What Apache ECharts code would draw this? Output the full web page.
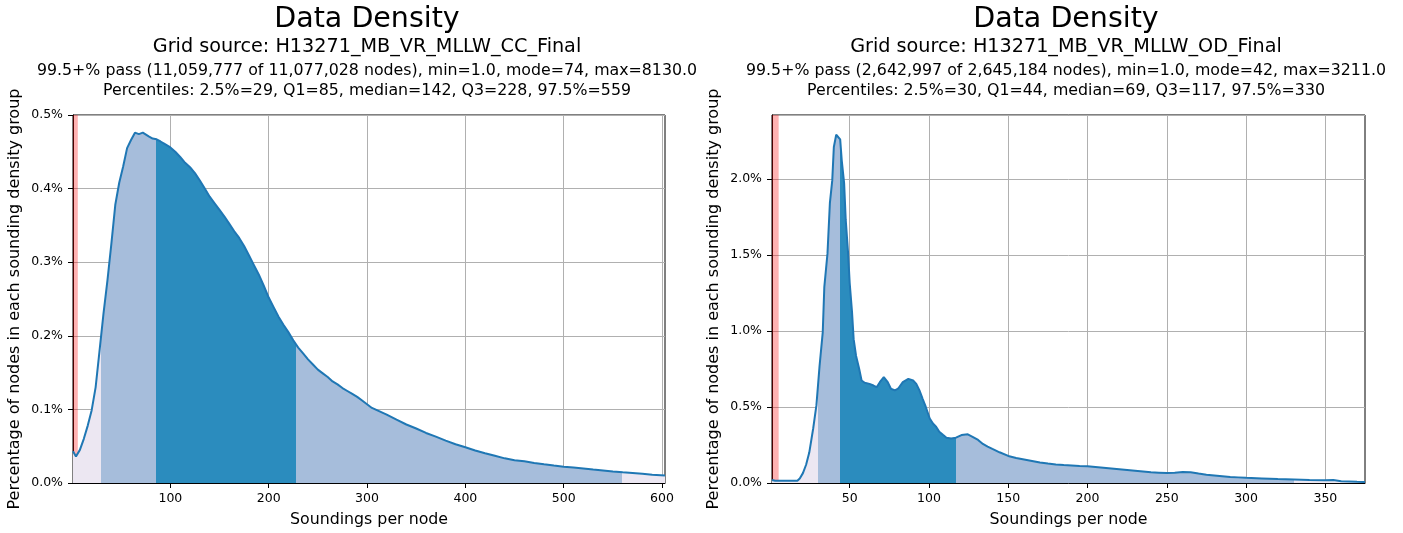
<!DOCTYPE html>
<html><head><meta charset="utf-8">
<script src="https://cdn.jsdelivr.net/npm/echarts@6/dist/echarts.min.js"></script>
<style>html,body{margin:0;padding:0;background:#fff}#c{width:1403px;height:533px}</style>
</head><body><div id="c"></div>
<script>
// ---- Left chart (CC_Final) ----
const leftTitle = 'Grid source: H13271_MB_VR_MLLW_CC_Final';
const leftStats = '99.5+% pass (11,059,777 of 11,077,028 nodes), min=1.0, mode=74, max=8130.0';
const leftPct = 'Percentiles: 2.5%=29, Q1=85, median=142, Q3=228, 97.5%=559';
const leftBreaks = [29, 85, 228, 559];          // 2.5%, Q1, Q3, 97.5%
const leftRange = [1, 603];
const leftFail = 5.9;
const leftTicks = [100, 200, 300, 400, 500, 600];
const leftX = [1,4,8,12,16,20,24,28,32,36,40,44,48,52,56,60,64,68,72,74,78,82,86,90,95,100,105,110,115,120,125,130,135,140,145,150,155,160,165,170,175,180,185,190,195,200,205,210,215,220,225,230,235,240,245,250,255,260,265,270,275,280,285,290,295,300,305,310,320,330,340,350,360,370,380,390,400,410,420,430,440,450,460,470,480,490,500,510,520,530,540,550,560,570,580,590,603];
const leftY = [0.043,0.036,0.045,0.060,0.078,0.099,0.130,0.180,0.230,0.275,0.325,0.378,0.408,0.430,0.455,0.466,0.476,0.474,0.476,0.478,0.471,0.468,0.467,0.464,0.460,0.456,0.450,0.443,0.435,0.429,0.421,0.411,0.400,0.389,0.380,0.371,0.362,0.352,0.342,0.333,0.322,0.309,0.296,0.283,0.268,0.252,0.239,0.226,0.215,0.205,0.194,0.184,0.176,0.168,0.161,0.154,0.149,0.144,0.138,0.134,0.129,0.125,0.121,0.117,0.112,0.107,0.102,0.099,0.093,0.086,0.0795,0.074,0.068,0.063,0.0575,0.0527,0.0486,0.0441,0.0405,0.037,0.0335,0.031,0.0295,0.0272,0.0254,0.0237,0.0222,0.021,0.0197,0.0183,0.017,0.0157,0.0146,0.0137,0.0125,0.0112,0.0103];

// ---- Right chart (OD_Final) ----
const rightTitle = 'Grid source: H13271_MB_VR_MLLW_OD_Final';
const rightStats = '99.5+% pass (2,642,997 of 2,645,184 nodes), min=1.0, mode=42, max=3211.0';
const rightPct = 'Percentiles: 2.5%=30, Q1=44, median=69, Q3=117, 97.5%=330';
const rightBreaks = [30, 44, 117, 330];
const rightRange = [1, 375];
const rightFail = 5.2;
const rightTicks = [50, 100, 150, 200, 250, 300, 350];
const rightX = [1,3,17,18.5,20.5,22.5,24.5,27,29,31,33,34,36,37.5,39,40,41.5,42.5,44,45,46.5,47.5,49,50,51.5,52.5,54,56,57.5,59.5,62.5,65,67,69,71.5,74,76,78.5,80.5,83.5,87,90,92,94,96,98,100.5,102.5,104.5,106.5,109,111,114,117,120.5,124.5,127.5,131,134,137,140,144.5,150,155,160,165,170,175,180,185,190,195,200,205,210,215,220,225,230,235,240,245,250,255,260,265,270,275,280,285,290,295,300,310,320,330,340,350,355,360,365,370,375];
const rightY = [0.02,0.015,0.015,0.03,0.065,0.12,0.20,0.36,0.51,0.77,0.99,1.29,1.51,1.84,1.99,2.21,2.29,2.30,2.26,2.12,1.97,1.73,1.51,1.315,1.12,0.946,0.837,0.75,0.674,0.659,0.652,0.641,0.63,0.663,0.696,0.663,0.62,0.609,0.62,0.663,0.685,0.674,0.652,0.609,0.554,0.50,0.424,0.391,0.37,0.337,0.315,0.298,0.293,0.298,0.315,0.32,0.304,0.283,0.257,0.239,0.224,0.202,0.178,0.165,0.155,0.145,0.135,0.128,0.122,0.118,0.115,0.112,0.110,0.105,0.100,0.095,0.090,0.085,0.080,0.075,0.070,0.068,0.065,0.068,0.072,0.070,0.062,0.055,0.050,0.045,0.040,0.037,0.034,0.030,0.026,0.023,0.020,0.018,0.020,0.012,0.010,0.008,0.007];

const fillColors = ['#ece7f2', '#a6bddb', '#2b8cbe', '#a6bddb', '#ece7f2'];

const FONT = 'DejaVu Sans';
const chart = echarts.init(document.getElementById('c'), null, {renderer: 'canvas'});

function pairs(xs, ys) { return xs.map((x, i) => [x, ys[i]]); }
function pieces(b) {
  return [
    {lt: b[0], color: fillColors[0]},
    {gte: b[0], lt: b[1], color: fillColors[1]},
    {gte: b[1], lt: b[2], color: fillColors[2]},
    {gte: b[2], lt: b[3], color: fillColors[3]},
    {gte: b[3], color: fillColors[4]}
  ];
}
function xAxis(gi, range, ticks) {
  return {
    type: 'value', gridIndex: gi, min: range[0], max: range[1],
    name: 'Soundings per node', nameLocation: 'middle', nameGap: 29,
    nameTextStyle: {fontFamily: FONT, fontSize: 15.8, color: '#000'},
    axisLine: {show: true, onZero: false, lineStyle: {color: '#000', width: 1}},
    axisTick: {show: true, length: 5, customValues: ticks, lineStyle: {color: '#000'}},
    axisLabel: {customValues: ticks, fontFamily: FONT, fontSize: 12.5, color: '#000', margin: 9},
    splitLine: {show: true, lineStyle: {color: '#b0b0b0', width: 1}}
  };
}
function yAxis(gi, max, interval) {
  const aligned = Math.abs(max / interval - Math.round(max / interval)) < 1e-9;
  return {
    type: 'value', gridIndex: gi, min: 0, max: max, interval: interval,
    name: 'Percentage of nodes in each sounding density group', nameLocation: 'middle', nameGap: 50,
    nameTextStyle: {fontFamily: FONT, fontSize: 16, color: '#000'},
    axisLine: {show: true, lineStyle: {color: '#000', width: 1}},
    axisTick: {show: true, length: 5, lineStyle: {color: '#000'}},
    axisLabel: {fontFamily: FONT, fontSize: 12.5, color: '#000', margin: 10, showMaxLabel: aligned,
      formatter: v => v.toFixed(1) + '%'},
    splitLine: {show: true, lineStyle: {color: '#b0b0b0', width: 1}}
  };
}
function areaSeries(gi, data, range, fail) {
  return {
    type: 'line', xAxisIndex: gi, yAxisIndex: gi, data: data, symbol: 'none', silent: true,
    lineStyle: {width: 0}, areaStyle: {opacity: 1}, z: 2,
    markArea: {silent: true, itemStyle: {color: 'rgba(255,0,0,0.3)'}, data: [[{xAxis: range[0]}, {xAxis: fail}]]}
  };
}
function lineSeries(gi, data) {
  return {
    type: 'line', xAxisIndex: gi, yAxisIndex: gi, data: data, symbol: 'none', silent: true,
    color: '#1f77b4', lineStyle: {width: 2, color: '#1f77b4'}, z: 3
  };
}
function texts(cx, title, stats, pct) {
  const mk = (y, t, size) => ({type: 'text', x: cx, y: y,
    style: {text: t, font: size + 'px "DejaVu Sans"', fill: '#000', textAlign: 'center', textVerticalAlign: 'middle'}});
  return [mk(20, 'Data Density', 28.5), mk(47, title, 19.2), mk(71, stats, 15.8), mk(91, pct, 15.8)];
}

chart.setOption({
  animation: false,
  backgroundColor: '#fff',
  grid: [
    {left: 73, right: 1403 - 665, top: 115, bottom: 533 - 487, show: true, borderColor: '#000', borderWidth: 1, containLabel: false},
    {left: 772, right: 1403 - 1365, top: 115, bottom: 533 - 487, show: true, borderColor: '#000', borderWidth: 1, containLabel: false}
  ],
  xAxis: [xAxis(0, leftRange, leftTicks), xAxis(1, rightRange, rightTicks)],
  yAxis: [yAxis(0, 0.5, 0.1), yAxis(1, 2.42, 0.5)],
  visualMap: [
    {type: 'piecewise', show: false, seriesIndex: 0, dimension: 0, pieces: pieces(leftBreaks)},
    {type: 'piecewise', show: false, seriesIndex: 2, dimension: 0, pieces: pieces(rightBreaks)}
  ],
  series: [
    areaSeries(0, pairs(leftX, leftY), leftRange, leftFail),
    lineSeries(0, pairs(leftX, leftY)),
    areaSeries(1, pairs(rightX, rightY), rightRange, rightFail),
    lineSeries(1, pairs(rightX, rightY))
  ],
  graphic: texts(367, leftTitle, leftStats, leftPct).concat(texts(1066, rightTitle, rightStats, rightPct))
});
</script></body></html>
